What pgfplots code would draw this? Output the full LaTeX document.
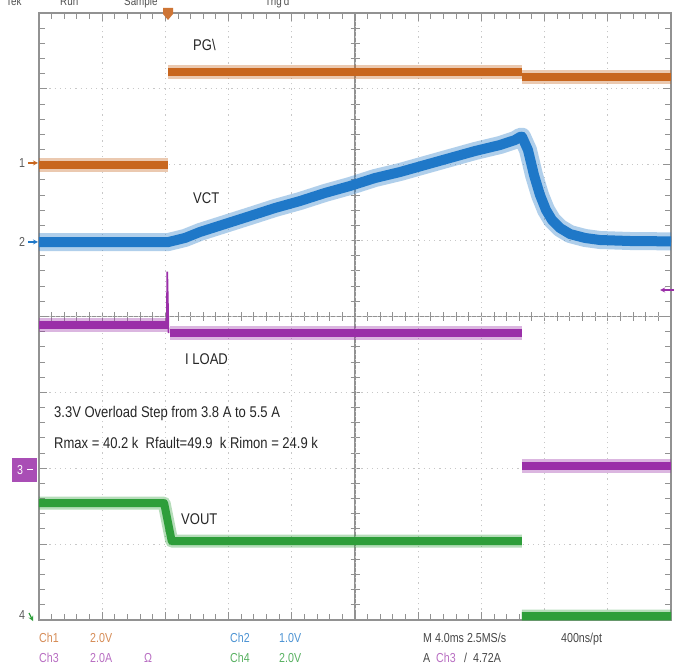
\documentclass[border=0pt]{standalone}
\usepackage{pgfplots}
\pgfplotsset{compat=1.18}
\usepackage{fontspec}
\setmainfont{Liberation Sans}[FakeStretch=0.82]
\newfontfamily\labelfont{Liberation Sans}[FakeStretch=0.84]

\definecolor{chone}{HTML}{C8661E}
\definecolor{chtwo}{HTML}{1F78C8}
\definecolor{chthree}{HTML}{9A2FA8}
\definecolor{chfour}{HTML}{2E9E3A}
\definecolor{gridc}{HTML}{C8C8C8}
\definecolor{framec}{HTML}{929292}
\definecolor{txt}{HTML}{262626}

\pgfplotsset{
  halo/.style={line width=#1, opacity=0.35},
  band/.style={line width=#1},
}

\begin{document}
\begin{tikzpicture}
\useasboundingbox (0pt,0pt) rectangle (679pt,669pt);
\fill[white] (0pt,0pt) rectangle (679pt,669pt);

% centre crosshair with its subdivision marks, beneath the traces
\begin{scope}[x=1pt, y=1pt]
\draw[framec, line width=1.1pt] (355,49) -- (355,656);
\draw[framec, line width=1.1pt] (39,352.5) -- (671,352.5);
\foreach \i in {1,...,49} {\draw[framec, line width=1pt] ({39+\i*12.64},348) -- ({39+\i*12.64},357);}
\foreach \j in {1,...,39} {\draw[framec, line width=1pt] (350.5,{49+\j*15.175}) -- (359.5,{49+\j*15.175});}
\end{scope}

\begin{axis}[
  at={(39pt,49pt)}, anchor=south west,
  scale only axis, width=632pt, height=607pt,
  xmin=0, xmax=10, ymin=-4, ymax=4,
  xtick={0,...,10}, ytick={-4,...,4},
  minor x tick num=4, minor y tick num=4,
  xticklabels={}, yticklabels={},
  tick align=inside, tick pos=both,
  major tick length=8pt, minor tick length=6pt,
  tick style={draw=framec, line width=1pt},
  minor tick style={draw=framec, line width=1pt},
  grid=major,
  major grid style={draw=gridc, dash pattern=on 1.2pt off 4pt, line width=0.9pt},
  axis line style={draw=framec, line width=1.1pt},
  unbounded coords=jump,
]
% Ch1: PG
\addplot[chone, halo=14pt] coordinates {(0,2.00) (2.04,2.00) (2.04,nan) (2.04,3.22) (7.64,3.22) (7.64,nan) (7.64,3.16) (10,3.16)};
\addplot[chone, band=8pt] coordinates {(0,2.00) (2.04,2.00) (2.04,nan) (2.04,3.22) (7.64,3.22) (7.64,nan) (7.64,3.16) (10,3.16)};

% Ch2: VCT
\addplot[chtwo, halo=18pt, line join=round] coordinates {
 (0,0.98) (2.04,0.98) (2.31,1.035) (2.547,1.114) (2.943,1.219) (3.339,1.324)
 (3.734,1.430) (4.130,1.522) (4.525,1.628) (4.921,1.720) (5.316,1.825)
 (5.712,1.904) (6.108,1.997) (6.503,2.089) (6.899,2.181) (7.294,2.260)
 (7.532,2.326) (7.611,2.366) (7.642,2.37) (7.737,2.194) (7.832,1.865)
 (7.927,1.601) (8.022,1.404) (8.117,1.272) (8.244,1.166) (8.402,1.087)
 (8.639,1.035) (8.877,1.008) (9.351,0.995) (10,0.99)};
\addplot[chtwo, band=10pt, line join=round] coordinates {
 (0,0.98) (2.04,0.98) (2.31,1.035) (2.547,1.114) (2.943,1.219) (3.339,1.324)
 (3.734,1.430) (4.130,1.522) (4.525,1.628) (4.921,1.720) (5.316,1.825)
 (5.712,1.904) (6.108,1.997) (6.503,2.089) (6.899,2.181) (7.294,2.260)
 (7.532,2.326) (7.611,2.366) (7.642,2.37) (7.737,2.194) (7.832,1.865)
 (7.927,1.601) (8.022,1.404) (8.117,1.272) (8.244,1.166) (8.402,1.087)
 (8.639,1.035) (8.877,1.008) (9.351,0.995) (10,0.99)};

% Ch3: I LOAD
\addplot[chthree, halo=14pt] coordinates {(0,-0.11) (2.04,-0.11) (2.04,nan) (2.07,-0.22) (7.64,-0.22) (7.64,nan) (7.64,-1.97) (10,-1.97)};
\addplot[chthree, band=8pt] coordinates {(0,-0.11) (2.04,-0.11) (2.04,nan) (2.07,-0.22) (7.64,-0.22) (7.64,nan) (7.64,-1.97) (10,-1.97)};
\addplot[chthree, line width=1.6pt] coordinates {(2.02,-0.11) (2.03,0.59) (2.05,-0.22)};

% Ch4: VOUT
\addplot[chfour, halo=13pt, line join=round] coordinates {(0,-2.46) (1.98,-2.46) (2.10,-2.96) (7.64,-2.96) (7.64,nan) (7.64,-3.95) (10,-3.95)};
\addplot[chfour, band=8pt, line join=round] coordinates {(0,-2.46) (1.98,-2.46) (2.10,-2.96) (7.64,-2.96) (7.64,nan) (7.64,-3.95) (10,-3.95)};
\end{axis}

\begin{scope}[x=1pt, y=1pt]
% header line of the scope, cut by the top edge
\begin{scope}[txt!80, font=\fontsize{12}{14}\selectfont]
  \node[anchor=base west, inner sep=0] at (6,663) {Tek};
  \node[anchor=base west, inner sep=0] at (60,663) {Run};
  \node[anchor=base west, inner sep=0] at (124,663) {Sample};
  \node[anchor=base west, inner sep=0] at (265,663) {Trig'd};
\end{scope}

% trace labels
\begin{scope}[txt, font=\labelfont\fontsize{15.5}{18}\selectfont]
  \node[anchor=base west, inner sep=0] at (193,618) {PG\textbackslash};
  \node[anchor=base west, inner sep=0] at (193,465) {VCT};
  \node[anchor=base west, inner sep=0] at (185,304) {I LOAD};
  \node[anchor=base west, inner sep=0] at (181,144) {VOUT};
  \node[anchor=base west, inner sep=0] at (54,251) {3.3V Overload Step from 3.8 A to 5.5 A};
  \node[anchor=base west, inner sep=0] at (54,220) {Rmax = 40.2 k\ \ Rfault=49.9\ \ k Rimon = 24.9 k};
\end{scope}

% channel ground markers
\begin{scope}[font=\fontsize{13}{15}\selectfont]
  \node[txt!75] at (22,506) {1};
  \draw[chone, line width=1.2pt, -stealth] (28,506) -- (38,506);
  \node[txt!75] at (22,427) {2};
  \draw[chtwo, line width=1.2pt, -stealth] (28,427) -- (38,427);
  \fill[chthree!85] (12,187) rectangle (37,211);
  \node[white] at (20,199) {3};
  \draw[white, line width=1pt] (27,199) -- (33,199);
  \node[txt!75] at (22,54) {4};
  \draw[chfour, line width=1.2pt, -stealth] (29,56) -- (33,48);
\end{scope}

% trigger position and trigger level markers
\fill[chone!90] (163,661) -- (173,661) -- (173,655) -- (168,649) -- (163,655) -- cycle;
\draw[chthree, line width=1.3pt, -stealth] (674,379) -- (660,379);

% status readout
\begin{scope}[font=\fontsize{13}{15}\selectfont]
  \node[anchor=base west, inner sep=0, chone!75!white] at (39,27) {Ch1};
  \node[anchor=base west, inner sep=0, chone!75!white] at (90,27) {2.0V};
  \node[anchor=base west, inner sep=0, chtwo!80!white] at (230,27) {Ch2};
  \node[anchor=base west, inner sep=0, chtwo!80!white] at (279,27) {1.0V};
  \node[anchor=base west, inner sep=0, txt!85] at (423,27) {M 4.0ms 2.5MS/s};
  \node[anchor=base west, inner sep=0, txt!85] at (561,27) {400ns/pt};
  \node[anchor=base west, inner sep=0, chthree!70!white] at (39,7) {Ch3};
  \node[anchor=base west, inner sep=0, chthree!70!white] at (90,7) {2.0A};
  \node[anchor=base west, inner sep=0, chthree!70!white] at (144,7) {Ω};
  \node[anchor=base west, inner sep=0, chfour!80!white] at (230,7) {Ch4};
  \node[anchor=base west, inner sep=0, chfour!80!white] at (279,7) {2.0V};
  \node[anchor=base west, inner sep=0, txt!85] at (423,7) {A};
  \node[anchor=base west, inner sep=0, chthree!70!white] at (436,7) {Ch3};
  \node[anchor=base west, inner sep=0, txt!85] at (464,7) {/\ \ 4.72A};
\end{scope}
\end{scope}
\end{tikzpicture}
\end{document}
